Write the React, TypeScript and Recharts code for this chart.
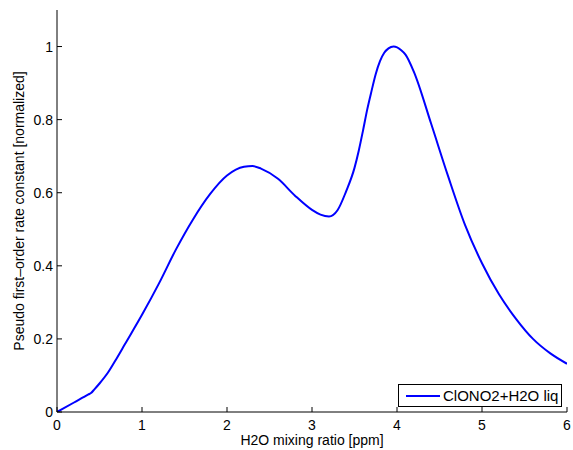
import React from 'react';
import { LineChart, Line, XAxis, YAxis } from 'recharts';

// H2O mixing ratio [ppm] and normalized rate constant
const h2o = [
  0, 0.2, 0.37, 0.4, 0.44, 0.5, 0.6, 0.7, 0.8, 1.0, 1.2, 1.4, 1.6, 1.8, 2.0, 2.2,
  2.3, 2.4, 2.6, 2.8, 3.0, 3.1, 3.2, 3.3, 3.4, 3.5, 3.55, 3.6, 3.65, 3.7, 3.75,
  3.8, 3.85, 3.9, 3.96, 4.05, 4.1, 4.2, 4.4, 4.6, 4.8, 5.0, 5.2, 5.4, 5.6, 5.8,
  6.0,
];
const rate = [
  0, 0.026, 0.048, 0.052, 0.062, 0.078, 0.108, 0.146, 0.186, 0.266, 0.352, 0.445,
  0.527, 0.596, 0.647, 0.671, 0.673, 0.666, 0.638, 0.592, 0.553, 0.54, 0.535,
  0.552, 0.603, 0.668, 0.715, 0.77, 0.828, 0.878, 0.925, 0.96, 0.983, 0.995, 1.0,
  0.99, 0.978, 0.93, 0.79, 0.646, 0.512, 0.407, 0.322, 0.255, 0.2, 0.161, 0.132,
];
const xTicks = [0, 1, 2, 3, 4, 5, 6];
const yTicks = [0, 0.2, 0.4, 0.6, 0.8, 1];
const seriesName = 'ClONO2+H2O liq';

const data = h2o.map((x, i) => ({ x, k: rate[i] }));

const font = '"Liberation Sans", Arial, sans-serif';
const tickStyle = { fill: '#000', fontSize: 14, fontFamily: font };

const XLabel = (props: any) => {
  const vb = props.viewBox;
  return (
    <text x={vb.x + vb.width / 2} y={vb.y + 33} textAnchor="middle" fontSize={14} fontFamily={font} fill="#000">
      H2O mixing ratio [ppm]
    </text>
  );
};

const YLabel = (props: any) => {
  const vb = props.viewBox;
  const cx = vb.x + 19;
  const cy = vb.y + vb.height / 2;
  return (
    <text
      x={cx}
      y={cy}
      transform={`rotate(-90, ${cx}, ${cy})`}
      textAnchor="middle"
      dominantBaseline="central"
      fontSize={14}
      fontFamily={font}
      fill="#000"
    >
      Pseudo first–order rate constant [normalized]
    </text>
  );
};

const LegendBox = () => (
  <div
    style={{
      position: 'absolute',
      left: 398,
      top: 384,
      boxSizing: 'border-box',
      width: 164,
      height: 23,
      border: '1px solid #000',
      background: '#fff',
      display: 'flex',
      alignItems: 'center',
      fontFamily: font,
      fontSize: 15,
      color: '#000',
    }}
  >
    <div style={{ width: 34, height: 2, background: '#0000ff', marginLeft: 7, marginRight: 3 }} />
    <span>{seriesName}</span>
  </div>
);

export default function App() {
  return (
    <div style={{ position: 'absolute', left: 0, top: 0, width: 573, height: 450, background: '#fff' }}>
      <LineChart width={573} height={450} data={data} margin={{ top: 10, right: 6, bottom: 0, left: 0 }}>
        <XAxis
          dataKey="x"
          type="number"
          domain={[0, 6]}
          ticks={xTicks}
          interval={0}
          allowDataOverflow
          height={38}
          stroke="#000"
          tickSize={-5}
          tickMargin={13}
          tick={tickStyle}
          label={XLabel}
        />
        <YAxis
          type="number"
          domain={[0, 1.1]}
          ticks={yTicks}
          interval={0}
          allowDataOverflow
          width={57}
          stroke="#000"
          tickSize={-5}
          tickMargin={9}
          tick={tickStyle}
          tickFormatter={(v: number) => String(v)}
          label={YLabel}
        />
        <Line
          dataKey="k"
          name={seriesName}
          type="monotone"
          stroke="#0000ff"
          strokeWidth={2}
          dot={false}
          activeDot={false}
          isAnimationActive={false}
        />
      </LineChart>
      <LegendBox />
    </div>
  );
}
